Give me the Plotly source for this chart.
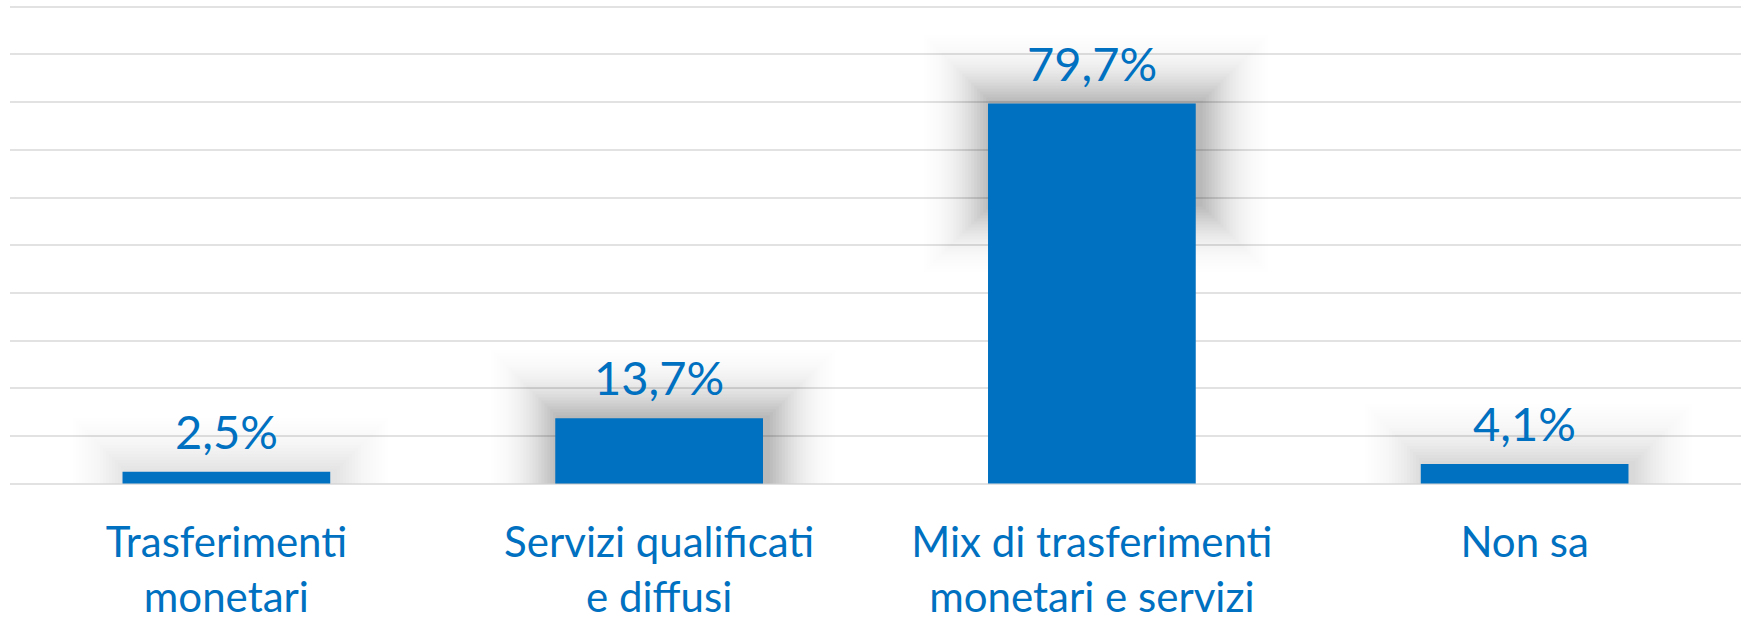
import math
import plotly.graph_objects as go

categories = ["Trasferimenti<br>monetari", "Servizi qualificati<br>e diffusi",
              "Mix di trasferimenti<br>monetari e servizi", "Non sa"]
values = [2.5, 13.7, 79.7, 4.1]

BLUE = "#0070C0"
FONT = "Lato"

BAR_W = 0.48
PX_PER_UNIT = 4.77      # vertical pixels per percentage point
PX_PER_CAT = 432.75     # horizontal pixels per category

fig = go.Figure()

# soft blurred shadow around the top part of each bar
n_layers = 36
step_px = 3.0
sigma = 32.0
src_h = 100.0           # height (px) of the shadow-casting top part
shift = 4.0 / PX_PER_CAT
strength = [min(1.0, (v * PX_PER_UNIT) / 60.0) ** 0.6 for v in values]
for k in range(n_layers, 0, -1):
    e = k * step_px
    a = 0.023 * math.exp(-(e * e) / (2 * sigma * sigma))
    w = BAR_W + 2 * e / PX_PER_CAT
    tops = [v + e / PX_PER_UNIT for v in values]
    bases = [max(0.0, v - (src_h + e) / PX_PER_UNIT) for v in values]
    fig.add_trace(go.Bar(
        x=categories, y=[t - b for t, b in zip(tops, bases)], base=bases,
        width=w, offset=-w / 2 + shift,
        marker=dict(color=[f"rgba(0,0,0,{a * s:.4f})" for s in strength],
                    line=dict(width=0)),
        hoverinfo="skip", showlegend=False,
    ))

fig.add_trace(go.Bar(
    x=categories, y=values, width=BAR_W,
    marker=dict(color=BLUE, line=dict(width=0)),
    showlegend=False,
))

for c, v in zip(categories, values):
    fig.add_annotation(
        x=c, y=v, text=f"{v:.1f}".replace(".", ",") + "%",
        showarrow=False, yanchor="bottom", yshift=11,
        font=dict(family=FONT, size=47, color=BLUE),
    )

fig.update_layout(
    width=1744, height=619,
    margin=dict(l=10, r=3, t=2, b=133),
    paper_bgcolor="white", plot_bgcolor="white",
    barmode="overlay", bargap=0.52,
    showlegend=False,
    font=dict(family=FONT, color=BLUE),
)
fig.update_xaxes(
    tickfont=dict(family=FONT, size=42, color=BLUE),
    showline=False, showgrid=False, ticks="", ticklabelstandoff=28,
    automargin=False,
)
fig.update_yaxes(
    range=[-0.5, 101], dtick=10, showticklabels=False,
    showgrid=True, gridcolor="#E2E2E2", gridwidth=2,
    zeroline=False, showline=False, ticks="", automargin=False,
)

fig.write_html("out.html", config={"displayModeBar": False},
               post_script="document.body.style.margin='0';document.body.style.overflow='hidden';")
